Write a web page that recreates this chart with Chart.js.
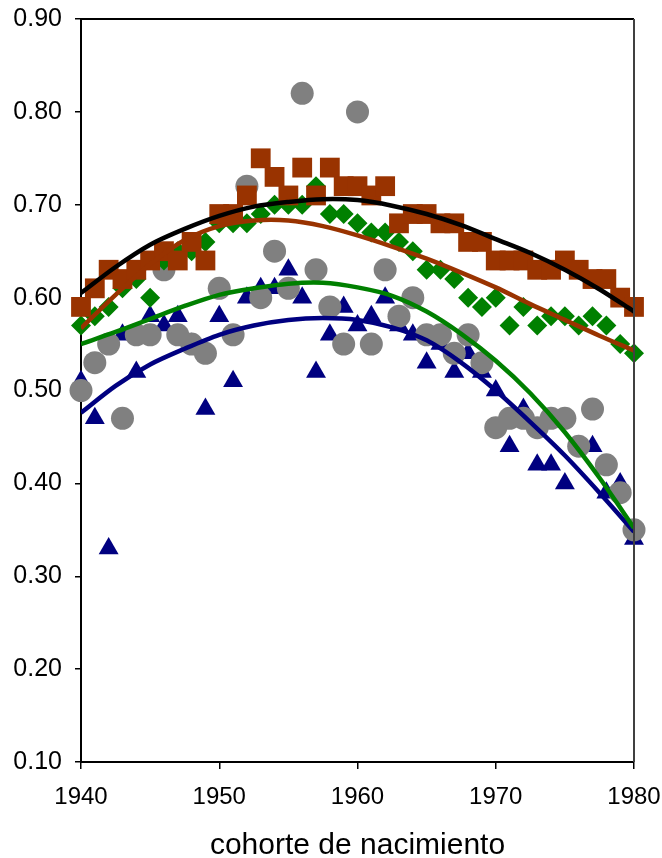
<!DOCTYPE html>
<html>
<head>
<meta charset="utf-8">
<script src="https://cdn.jsdelivr.net/npm/chart.js@4/dist/chart.umd.min.js"></script>
<style>
  body { margin: 0; background: #fff; }
  canvas { display: block; }
</style>
</head>
<body>
<canvas id="cohortChart" width="662" height="858"></canvas>
<script>
// birth cohorts on the x axis
var years = [];
for (var yr = 1940; yr <= 1980; yr++) years.push(yr);

// scatter series, one value per cohort
var squaresBrown = [0.59, 0.61, 0.63, 0.62, 0.63, 0.64, 0.65, 0.64, 0.66, 0.64,
  0.69, 0.69, 0.71, 0.75, 0.73, 0.71, 0.74, 0.71, 0.74, 0.72,
  0.72, 0.71, 0.72, 0.68, 0.69, 0.69, 0.68, 0.68, 0.66, 0.66,
  0.64, 0.64, 0.64, 0.63, 0.63, 0.64, 0.63, 0.62, 0.62, 0.60, 0.59];
var diamondsGreen = [0.57, 0.58, 0.59, 0.61, 0.62, 0.60, 0.64, 0.65, 0.65, 0.66,
  0.68, 0.68, 0.68, 0.69, 0.70, 0.70, 0.70, 0.72, 0.69, 0.69,
  0.68, 0.67, 0.67, 0.66, 0.65, 0.63, 0.63, 0.62, 0.60, 0.59,
  0.60, 0.57, 0.59, 0.57, 0.58, 0.58, 0.57, 0.58, 0.57, 0.55, 0.54];
var circlesGray = [0.50, 0.53, 0.55, 0.47, 0.56, 0.56, 0.63, 0.56, 0.55, 0.54,
  0.61, 0.56, 0.72, 0.60, 0.65, 0.61, 0.82, 0.63, 0.59, 0.55,
  0.80, 0.55, 0.63, 0.58, 0.60, 0.56, 0.56, 0.54, 0.56, 0.53,
  0.46, 0.47, 0.47, 0.46, 0.47, 0.47, 0.44, 0.48, 0.42, 0.39, 0.35];
var trianglesBlue = [0.51, 0.47, 0.33, 0.56, 0.52, 0.58, 0.57, 0.58, 0.55, 0.48,
  0.58, 0.51, 0.60, 0.61, 0.61, 0.63, 0.60, 0.52, 0.56, 0.59,
  0.57, 0.58, 0.60, 0.57, 0.56, 0.53, 0.55, 0.52, 0.54, 0.52,
  0.50, 0.44, 0.48, 0.42, 0.42, 0.40, 0.44, 0.44, 0.39, 0.40, 0.34];

// trend curves, every 2.5 years
var trendYears = [1940, 1942.5, 1945, 1947.5, 1950, 1952.5, 1955, 1957.5, 1960,
  1962.5, 1965, 1967.5, 1970, 1972.5, 1975, 1977.5, 1980];
var trendBlack = [0.605, 0.633, 0.657, 0.674, 0.688, 0.698, 0.703, 0.706, 0.705,
  0.699, 0.690, 0.678, 0.663, 0.648, 0.630, 0.609, 0.585];
var trendBrown = [0.567, 0.603, 0.636, 0.662, 0.677, 0.683, 0.683, 0.677, 0.667,
  0.655, 0.642, 0.627, 0.611, 0.593, 0.576, 0.559, 0.543];
var trendGreen = [0.550, 0.563, 0.577, 0.591, 0.603, 0.610, 0.615, 0.616, 0.611,
  0.602, 0.585, 0.561, 0.532, 0.497, 0.455, 0.406, 0.352];
var trendBlue = [0.476, 0.505, 0.528, 0.545, 0.560, 0.570, 0.576, 0.578, 0.576,
  0.568, 0.554, 0.530, 0.500, 0.466, 0.430, 0.390, 0.348];

// y axis tick labels
var yTickLabels = ['0.10', '0.20', '0.30', '0.40', '0.50', '0.60', '0.70', '0.80', '0.90'];

function toPoints(xs, ys) {
  return xs.map(function (x, i) { return { x: x, y: ys[i] }; });
}

function trendSet(values, color) {
  return {
    data: toPoints(trendYears, values),
    showLine: true,
    borderColor: color,
    borderWidth: 4.5,
    pointRadius: 0,
    tension: 0.3,
    fill: false
  };
}

function markerSet(values, style, radius, color) {
  return {
    data: toPoints(years, values),
    pointStyle: style,
    pointRadius: radius,
    pointHoverRadius: radius,
    backgroundColor: color,
    borderWidth: 0,
    clip: false
  };
}

// top and right frame of the plot area
var frameLines = {
  id: 'frameLines',
  afterDatasetsDraw: function (chart) {
    var a = chart.chartArea, ctx = chart.ctx;
    ctx.save();
    ctx.lineWidth = 2;
    ctx.strokeStyle = '#000';
    ctx.beginPath();
    ctx.moveTo(a.left, a.top);
    ctx.lineTo(a.right, a.top);
    ctx.stroke();
    ctx.strokeStyle = '#404040';
    ctx.beginPath();
    ctx.moveTo(a.right, a.top);
    ctx.lineTo(a.right, a.bottom);
    ctx.stroke();
    ctx.restore();
  }
};

var fontFamily = '"Liberation Sans", Arial, sans-serif';
var ctx = document.getElementById('cohortChart').getContext('2d');

var cohortChart = new Chart(ctx, {
  type: 'scatter',
  data: {
    datasets: [
      trendSet(trendBlack, '#000000'),
      trendSet(trendBrown, '#993300'),
      trendSet(trendGreen, '#008000'),
      trendSet(trendBlue, '#000080'),
      markerSet(squaresBrown, 'rect', 14, '#993300'),
      markerSet(diamondsGreen, 'rectRot', 10, '#008000'),
      markerSet(circlesGray, 'circle', 11.5, '#808080'),
      markerSet(trianglesBlue, 'triangle', 11.5, '#000080')
    ]
  },
  options: {
    responsive: false,
    animation: false,
    layout: { padding: { top: 19, right: 28, left: 0, bottom: 0 } },
    plugins: {
      legend: { display: false },
      tooltip: { enabled: false }
    },
    scales: {
      x: {
        type: 'linear',
        min: 1940,
        max: 1980,
        afterFit: function (scale) {
          scale.height = 96;
          scale.paddingLeft = 0;
          scale.paddingRight = 0;
        },
        ticks: {
          stepSize: 10,
          color: '#000',
          padding: 14,
          maxRotation: 0,
          font: { family: fontFamily, size: 24 },
          callback: function (v) { return String(v); }
        },
        grid: { drawOnChartArea: false, drawTicks: true, tickLength: 7, color: '#000', lineWidth: 1.5 },
        border: { display: true, color: '#000', width: 2 },
        title: {
          display: true,
          text: 'cohorte de nacimiento',
          color: '#000',
          padding: { top: 0, bottom: 0 },
          font: { family: fontFamily, size: 30, lineHeight: 0.8 }
        }
      },
      y: {
        min: 0.1,
        max: 0.9,
        afterFit: function (scale) {
          scale.width = 81;
          scale.paddingTop = 0;
          scale.paddingBottom = 0;
        },
        ticks: {
          stepSize: 0.1,
          color: '#000',
          padding: 13,
          font: { family: fontFamily, size: 25 },
          callback: function (v) {
            var i = Math.round((v - 0.1) * 10);
            return yTickLabels[i];
          }
        },
        grid: { drawOnChartArea: false, drawTicks: true, tickLength: 6, color: '#000', lineWidth: 1.5 },
        border: { display: true, color: '#000', width: 2 }
      }
    }
  },
  plugins: [frameLines]
});
</script>
</body>
</html>
